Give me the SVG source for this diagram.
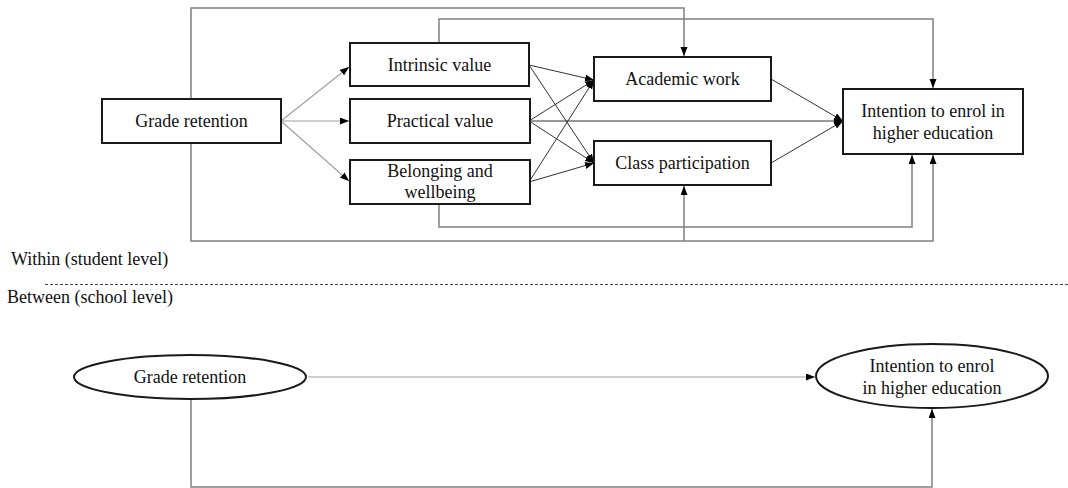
<svg xmlns="http://www.w3.org/2000/svg" width="1068" height="488" viewBox="0 0 1068 488">
<style>
  .box{fill:#fff;stroke:#1a1a1a;stroke-width:2}
  .ell{fill:#fff;stroke:#1a1a1a;stroke-width:2}
  text{font-family:'Liberation Serif','Times New Roman',serif;font-size:18px;fill:#111}
  .t{text-anchor:middle}
  .grey{fill:none;stroke:#808080;stroke-width:1.5}
  .light{fill:none;stroke:#a0a0a0;stroke-width:1.2}
  .dark{fill:none;stroke:#333;stroke-width:1}
  .dash{fill:none;stroke:#444;stroke-width:1;stroke-dasharray:3 2}
</style>
<defs>
  <marker id="ah" markerUnits="userSpaceOnUse" markerWidth="10" markerHeight="8" refX="9" refY="3.5" orient="auto">
    <path d="M0,0 L9,3.5 L0,7 z" fill="#000"/>
  </marker>
</defs>
<rect width="1068" height="488" fill="#fff"/>
<g id="connectors">
  <path class="grey" d="M191,99 V8 H684 V56" marker-end="url(#ah)"/>
  <path class="grey" d="M439,43 V19 H933 V88" marker-end="url(#ah)"/>
  <path class="grey" d="M439,204 V227 H912 V155" marker-end="url(#ah)"/>
  <path class="grey" d="M191,143 V241 H933 V155" marker-end="url(#ah)"/>
  <path class="grey" d="M684,241 V186" marker-end="url(#ah)"/>
  <path class="light" d="M281,121 L349,67" marker-end="url(#ah)"/>
  <path class="light" d="M281,121 L349,121" marker-end="url(#ah)"/>
  <path class="light" d="M281,121 L349,181" marker-end="url(#ah)"/>
  <path class="dark" d="M529,65 L594,80" marker-end="url(#ah)"/>
  <path class="dark" d="M529,65 L594,163" marker-end="url(#ah)"/>
  <path class="dark" d="M529,121 L594,80" marker-end="url(#ah)"/>
  <path class="dark" d="M529,121 L594,163" marker-end="url(#ah)"/>
  <path class="dark" d="M529,121 L843,121" marker-end="url(#ah)"/>
  <path class="dark" d="M529,182 L594,80" marker-end="url(#ah)"/>
  <path class="dark" d="M529,182 L594,163" marker-end="url(#ah)"/>
  <path class="dark" d="M771,79 L843,121" marker-end="url(#ah)"/>
  <path class="dark" d="M771,163 L843,121" marker-end="url(#ah)"/>
  <path class="light" d="M308,377 H815" marker-end="url(#ah)"/>
  <path class="grey" d="M191,399 V487 H932 V409" marker-end="url(#ah)"/>
</g>
<g id="grade-retention">
  <rect class="box" x="102" y="99" width="179" height="44"/>
  <text class="t" x="191.5" y="127">Grade retention</text>
</g>
<g id="intrinsic-value">
  <rect class="box" x="350" y="43" width="179" height="43"/>
  <text class="t" x="439.5" y="71">Intrinsic value</text>
</g>
<g id="practical-value">
  <rect class="box" x="350" y="99" width="180" height="44"/>
  <text class="t" x="440" y="127">Practical value</text>
</g>
<g id="belonging-wellbeing">
  <rect class="box" x="350" y="160" width="180" height="44"/>
  <text class="t" x="440" y="177">Belonging and</text>
  <text class="t" x="440" y="198">wellbeing</text>
</g>
<g id="academic-work">
  <rect class="box" x="594" y="57" width="177" height="44"/>
  <text class="t" x="682.5" y="85">Academic work</text>
</g>
<g id="class-participation">
  <rect class="box" x="594" y="141" width="177" height="44"/>
  <text class="t" x="682.5" y="169">Class participation</text>
</g>
<g id="intention-within">
  <rect class="box" x="843" y="89" width="180" height="65"/>
  <text class="t" x="933" y="117">Intention to enrol in</text>
  <text class="t" x="933" y="139">higher education</text>
</g>
<g id="levels">
  <text x="11" y="265">Within (student level)</text>
  <line class="dash" x1="45" y1="284.5" x2="1068" y2="284.5"/>
  <text x="7" y="303">Between (school level)</text>
</g>
<g id="grade-retention-between">
  <ellipse class="ell" cx="190" cy="377" rx="116" ry="22"/>
  <text class="t" x="190" y="383">Grade retention</text>
</g>
<g id="intention-between">
  <ellipse class="ell" cx="932" cy="376" rx="116" ry="32"/>
  <text class="t" x="932" y="372">Intention to enrol</text>
  <text class="t" x="932" y="394">in higher education</text>
</g>
</svg>
